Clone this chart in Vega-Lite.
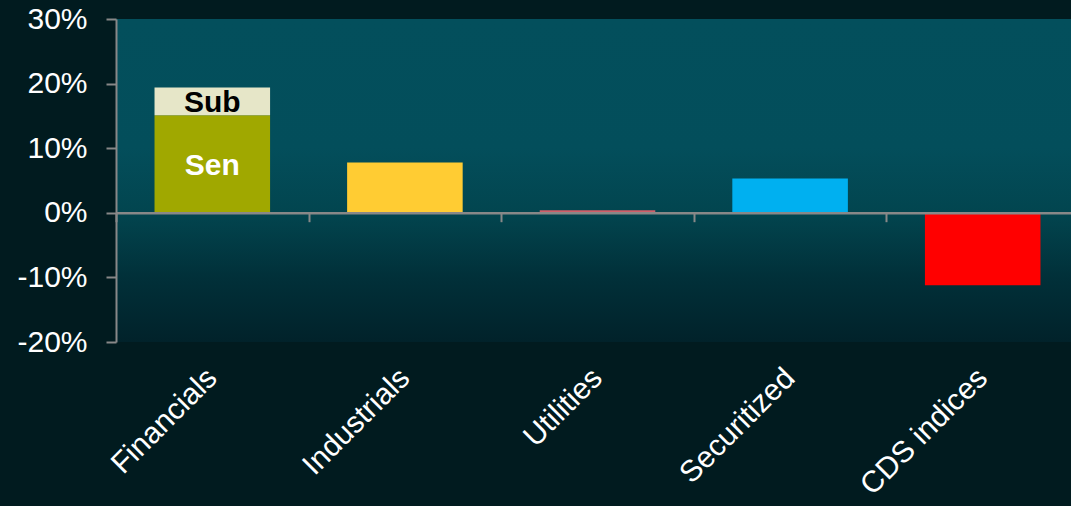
{
  "$schema": "https://vega.github.io/schema/vega-lite/v6.json",
  "autosize": {"type": "none"},
  "padding": {"left": 116, "top": 19, "right": 0, "bottom": 164},
  "width": 955,
  "height": 323,
  "background": "#011b1f",
  "config": {
    "view": {
      "stroke": null,
      "fill": {
        "gradient": "linear", "x1": 0, "y1": 0, "x2": 0, "y2": 1,
        "stops": [
          {"offset": 0, "color": "#034f5c"},
          {"offset": 0.4, "color": "#034e5b"},
          {"offset": 0.6, "color": "#02454f"},
          {"offset": 0.8, "color": "#013039"},
          {"offset": 1, "color": "#01222a"}
        ]
      }
    },
    "font": "Liberation Sans"
  },
  "data": {
    "values": [
      {"category": "Financials", "segment": "Sen", "value": 15.1, "ord": 1},
      {"category": "Financials", "segment": "Sub", "value": 4.3, "ord": 2},
      {"category": "Industrials", "segment": "Industrials", "value": 7.8, "ord": 1},
      {"category": "Utilities", "segment": "Utilities", "value": 0.4, "ord": 1},
      {"category": "Securitized", "segment": "Securitized", "value": 5.3, "ord": 1},
      {"category": "CDS indices", "segment": "CDS indices", "value": -11.2, "ord": 1}
    ]
  },
  "transform": [
    {"stack": "value", "groupby": ["category"], "sort": [{"field": "ord", "order": "ascending"}], "as": ["v0", "v1"]}
  ],
  "layer": [
    {
      "mark": {"type": "bar", "width": {"band": 0.6}},
      "encoding": {
        "x": {
          "field": "category", "type": "nominal", "sort": null,
          "scale": {"paddingInner": 0, "paddingOuter": 0, "range": [0, 963]},
          "axis": {
            "orient": "bottom", "title": null, "domain": false, "ticks": false,
            "labelAngle": -45, "labelAlign": "right", "labelBaseline": "middle",
            "labelFontSize": 30, "labelColor": "#ffffff", "labelPadding": 31,
            "labelFont": "Liberation Sans"
          }
        },
        "y": {
          "field": "v0", "type": "quantitative",
          "scale": {"domain": [-20, 30], "nice": false, "zero": false},
          "axis": {
            "title": null, "values": [-20, -10, 0, 10, 20, 30],
            "labelExpr": "datum.value + '%'",
            "grid": false, "domainColor": "#888888", "domainWidth": 2,
            "tickColor": "#888888", "tickWidth": 2, "tickSize": 10,
            "labelColor": "#ffffff", "labelFontSize": 30, "labelPadding": 19,
            "labelFont": "Liberation Sans", "zindex": 1
          }
        },
        "y2": {"field": "v1"},
        "color": {
          "field": "segment", "type": "nominal", "legend": null,
          "scale": {
            "domain": ["Sen", "Sub", "Industrials", "Utilities", "Securitized", "CDS indices"],
            "range": ["#a0a800", "#e6e6c8", "#ffcc33", "#d0606a", "#00b0f0", "#ff0000"]
          }
        }
      }
    },
    {
      "transform": [
        {"filter": "datum.category === 'Financials'"},
        {"calculate": "(datum.v0 + datum.v1) / 2", "as": "mid"}
      ],
      "mark": {"type": "text", "fontSize": 30, "fontWeight": "bold", "font": "Liberation Sans", "baseline": "middle", "align": "center", "dy": 2},
      "encoding": {
        "x": {
          "field": "category", "type": "nominal", "sort": null,
          "axis": {
            "orient": "bottom", "title": null, "offset": -129.3, "labels": false,
            "ticks": true, "tickBand": "extent", "tickSize": 9, "tickColor": "#888888", "tickWidth": 2,
            "domain": true, "domainColor": "#888888", "domainWidth": 2.5, "zindex": 1
          }
        },
        "y": {"field": "mid", "type": "quantitative", "title": null},
        "text": {"field": "segment"},
        "color": {
          "condition": {"test": "datum.segment === 'Sub'", "value": "#000000"},
          "value": "#ffffff"
        }
      }
    }
  ],
  "resolve": {"axis": {"x": "independent"}, "scale": {"color": "independent"}}
}
